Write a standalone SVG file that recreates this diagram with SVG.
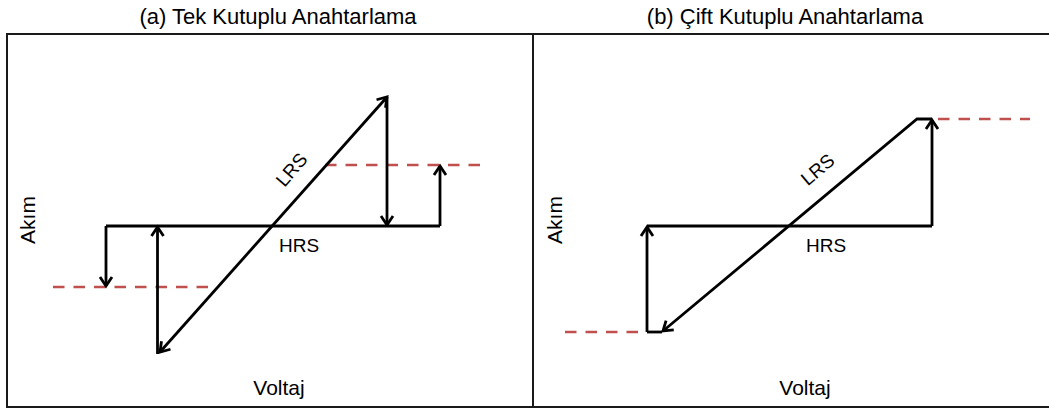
<svg xmlns="http://www.w3.org/2000/svg" width="1049" height="409" viewBox="0 0 1049 409">
<style>
.t{font-family:"Liberation Sans",Arial,sans-serif;fill:#000}
.title{font-size:22px}
.ax{font-size:21px}
.st{font-size:19px}
.ln{fill:none;stroke:#000;stroke-width:2.8;stroke-linejoin:miter}
.arr{fill:none;stroke:#000;stroke-width:2.8;marker-end:url(#ah)}
.dash{fill:none;stroke:#c0504d;stroke-width:2.6;stroke-dasharray:11.5 9}
.frame{fill:none;stroke:#1a1a1a;stroke-width:2}
</style>
<defs>
<marker id="ah" markerUnits="userSpaceOnUse" markerWidth="20" markerHeight="20" refX="0" refY="0" viewBox="-12 -10 14 20" orient="auto" overflow="visible">
<path d="M-9,-6 L0,0 L-9,6" fill="none" stroke="#000" stroke-width="2.8"/>
</marker>
<marker id="ahs" markerUnits="userSpaceOnUse" markerWidth="20" markerHeight="20" refX="0" refY="0" viewBox="-12 -10 14 20" orient="auto-start-reverse" overflow="visible">
<path d="M-9,-6 L0,0 L-9,6" fill="none" stroke="#000" stroke-width="2.8"/>
</marker>
</defs>
<rect width="1049" height="409" fill="#fff"/>
<g id="frame">
<rect class="frame" x="7" y="34" width="1046" height="373"/>
<line class="frame" x1="533" y1="34" x2="533" y2="407"/>
</g>
<g id="titles">
<text class="t title" x="278" y="24" text-anchor="middle">(a) Tek Kutuplu Anahtarlama</text>
<text class="t title" x="785" y="24" text-anchor="middle">(b) Çift Kutuplu Anahtarlama</text>
</g>
<g id="axis-labels">
<text class="t ax" transform="translate(35,220) rotate(-90)" text-anchor="middle">Akım</text>
<text class="t ax" x="279" y="395" text-anchor="middle">Voltaj</text>
<text class="t ax" transform="translate(562,220) rotate(-90)" text-anchor="middle">Akım</text>
<text class="t ax" x="805" y="395" text-anchor="middle">Voltaj</text>
</g>
<g id="state-labels">
<text class="t st" transform="translate(292,170) rotate(-49)" x="0" y="6" text-anchor="middle">LRS</text>
<text class="t st" x="299" y="252" text-anchor="middle">HRS</text>
<text class="t st" transform="translate(818,170) rotate(-40)" x="0" y="6" text-anchor="middle">LRS</text>
<text class="t st" x="826" y="252" text-anchor="middle">HRS</text>
</g>
<g id="compliance">
<line class="dash" x1="53" y1="287" x2="214" y2="287"/>
<line class="dash" x1="325" y1="165" x2="485" y2="165"/>
<line class="dash" x1="565" y1="332" x2="641" y2="332"/>
<line class="dash" x1="938" y1="119" x2="1030" y2="119"/>
</g>
<g id="connectors">
<line class="ln" x1="106" y1="226" x2="440" y2="226"/>
<line class="arr" x1="106" y1="226" x2="106" y2="286"/>
<line class="arr" x1="157.5" y1="354" x2="157.5" y2="227"/>
<line class="ln" x1="160" y1="352" x2="387" y2="97" style="marker-start:url(#ahs);marker-end:url(#ah)"/>
<line class="arr" x1="387" y1="97" x2="387" y2="225"/>
<line class="arr" x1="440" y1="226" x2="440" y2="166"/>
<line class="ln" x1="647" y1="226" x2="932" y2="226"/>
<line class="ln" x1="647" y1="332" x2="662" y2="332"/>
<line class="arr" x1="647" y1="332" x2="647" y2="227"/>
<polyline class="ln" points="932,119 917,119 663,331" style="marker-end:url(#ah)"/>
<line class="arr" x1="932" y1="226" x2="932" y2="120"/>
</g>
</svg>
